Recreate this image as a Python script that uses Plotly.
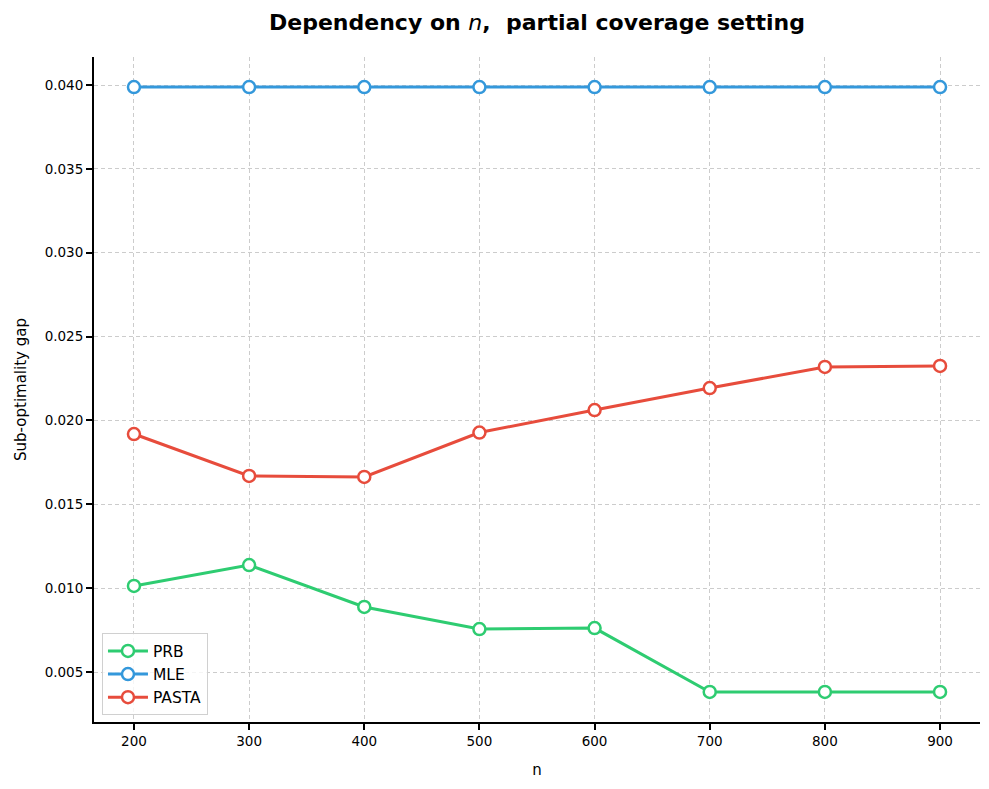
import plotly.graph_objects as go

n_values = [200, 300, 400, 500, 600, 700, 800, 900]
prb = [0.01013, 0.01138, 0.00888, 0.00756, 0.00762, 0.00381, 0.00381, 0.00381]
mle = [0.03988, 0.03988, 0.03988, 0.03988, 0.03988, 0.03988, 0.03988, 0.03988]
pasta = [0.01919, 0.01669, 0.01663, 0.01928, 0.02062, 0.02193, 0.02319, 0.02325]

series = [("PRB", prb, "#2ecc71"), ("MLE", mle, "#3498db"), ("PASTA", pasta, "#e74c3c")]
x_ticks = [200, 300, 400, 500, 600, 700, 800, 900]
y_ticks = [0.005, 0.010, 0.015, 0.020, 0.025, 0.030, 0.035, 0.040]

fig = go.Figure()
for name, vals, col in series:
    fig.add_trace(go.Scatter(
        x=n_values, y=vals, name=name, mode="lines+markers",
        line=dict(color=col, width=3),
        marker=dict(size=12, color="white", line=dict(color=col, width=2.5)),
    ))

font = "DejaVu Sans"
fig.update_layout(
    width=989, height=789,
    paper_bgcolor="white", plot_bgcolor="white",
    margin=dict(l=84, r=17, t=49, b=75),
    font=dict(family=font, size=13.5, color="black"),
    title=dict(text="<b>Dependency on </b><i>n</i><b>,  partial coverage setting</b>",
               x=0.5, xref="paper", xanchor="center", y=0.982, yanchor="middle",
               font=dict(family=font, size=22, color="black")),
    showlegend=True,
    legend=dict(x=0.009, y=0.01, xanchor="left", yanchor="bottom",
                bgcolor="rgba(255,255,255,0.8)", bordercolor="#d0d0d0", borderwidth=1,
                font=dict(family=font, size=15.5), tracegroupgap=0, itemwidth=40),
)
grid = dict(showgrid=True, gridcolor="#cccccc", griddash="4px,3px", gridwidth=1)
fig.update_xaxes(
    range=[165.3, 934.7], tickvals=x_ticks, ticktext=[str(v) for v in x_ticks],
    showline=True, linecolor="black", linewidth=2, mirror=False,
    ticks="outside", ticklen=6, tickwidth=1.5, tickcolor="black",
    zeroline=False, **grid,
    title=dict(text="n", font=dict(family=font, size=15), standoff=16),
)
fig.update_yaxes(
    range=[0.00202, 0.04167], tickvals=y_ticks, ticktext=[f"{v:.3f}" for v in y_ticks],
    showline=True, linecolor="black", linewidth=2, mirror=False,
    ticks="outside", ticklen=6, tickwidth=1.5, tickcolor="black",
    zeroline=False, **grid,
    title=dict(text="Sub-optimality gap", font=dict(family=font, size=15), standoff=14),
)
fig.write_html("out.html")
